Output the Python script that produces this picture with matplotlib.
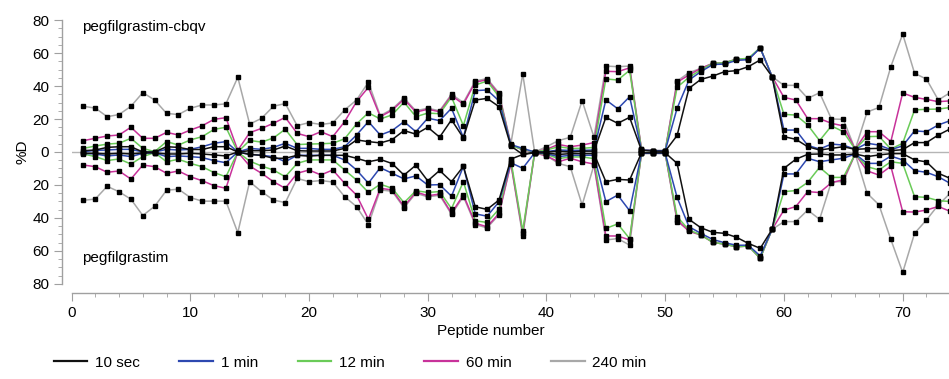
import numpy as np
import matplotlib
matplotlib.use("Agg")
import matplotlib.pyplot as plt
from matplotlib.ticker import MultipleLocator, FuncFormatter

plt.rcParams['font.family'] = ['Liberation Sans', 'DejaVu Sans']

peptides = list(range(1, 75))

# top half: pegfilgrastim-cbqv, bottom half: pegfilgrastim (%D, plotted mirrored)
k_top = [0.8, 1.2, 2.8, 3.2, 3.2, 0, 0, 3.2, 2.8, 1.5, 1.5, 3.2, 3.2, 0,
         0.8, 0.8, 1.2, 3.6, 0.8, 0.6, 0.6, 0.6, 2.2, 7.3, 6.3, 5.5,
         7.5, 13, 10.8, 15, 9, 19.5, 8.5, 31.5, 32.5, 27.5, 3.6, -1.5, 0,
         0, 0.5, 0, 0.5, 0.5, 21, 17.4, 21, 1, 0.5, 0.5,
         10, 38.6, 44, 46, 48.7, 49.3, 51.7, 55.8, 45.7,
         9.3, 7.7, 3.2, 1.2, 2.2, 3.2, 1.6, 2, 2.2, 0.8, 1.4, 5.7, 5.7, 10.3, 14]
k_bot = [0.8, 0.8, 1.2, 0.8, 1.2, 0.5, 0.5, 1.2, 1.2, 0.8, 1.2, 1.8, 2.4, 0,
         1.5, 2, 3.8, 3.8, 2, 2.5, 2, 2, 2, 3.8, 5.9, 4.5,
         7, 14, 8, 17.5, 11.2, 18, 8.7, 33.2, 34.8, 29.1, 4.3, 1.5, 0.5,
         0.5, 1.5, 1, 1, 1, 18, 16.6, 17, 0.5, 0.5, 0.5,
         6.9, 40.8, 45.9, 48.7, 49.3, 51.7, 55.4, 58.4, 46.9,
         9.9, 4.4, 1.4, 1.2, 1.8, 1.8, 1.2, 2.8, 1.8, 1, 1, 4.8, 6, 12.9, 16]
b_top = [0.2, 1, 1.2, 1.6, 1.6, 0, 0, 1.6, 1.2, 1.6, 3.2, 5.3, 6.3, 0,
         2.2, 1.6, 2.8, 5.3, 2.2, 2.2, 1.6, 1.6, 3.2, 10.3, 18.4, 10.3,
         13, 18.4, 12.3, 20.5, 19, 26.5, 8.8, 37.2, 37.6, 31, 4.5, 2.2, 0,
         0.2, 1.2, 1, 1, 1.2, 31.6, 26.2, 33.5, 1.2, 0.8, 0.8,
         26.5, 43.6, 48.7, 53, 53.3, 55.5, 56, 63, 45.7,
         13.3, 13.3, 4, 1.8, 4.8, 4.2, 1.6, 5.3, 4.2, 1.4, 3.7, 12.8, 12.3, 16.4, 19]
b_bot = [0.8, 1.2, 2.4, 1.8, 2.8, 0.8, 0.5, 2.8, 2.4, 2.8, 3.4, 5.2, 6.5, 0,
         1.4, 2, 2.8, 5.9, 2, 2, 2, 2, 4.8, 10.9, 18.9, 9.5,
         12.9, 16.3, 14.5, 20, 19.8, 26.8, 8.7, 37.5, 38.9, 30.2, 6.5, 9.9, 0.5,
         1, 2.8, 2, 2, 2, 30.1, 26.1, 35.6, 0.8, 0.8, 0.8,
         27.5, 45.3, 49.3, 53, 55, 56.5, 56.5, 63, 46.9,
         13.3, 13.3, 3.8, 5.9, 4.8, 3.8, 1.2, 6.9, 6.9, 2.5, 4.8, 11.3, 12.3, 15, 19]
g_top = [2.2, 3.6, 4.8, 5.3, 8.3, 2.2, 0.2, 6.3, 4.2, 7.3, 9.3, 13.7, 15, 0,
         7, 6, 8.5, 13.8, 4.5, 4.8, 5, 5.3, 8, 17, 23.8, 20,
         22.5, 30.2, 21.4, 23.6, 23.2, 33.3, 16, 40.6, 43, 33.5, 4, 1.5, 0,
         1.2, 3.2, 2.2, 2.2, 2.8, 44.3, 43.6, 49.5, 1.2, 0.8, 0.8,
         39.2, 45.3, 49.7, 53.7, 54.1, 56.2, 56.8, 63.2, 45.7,
         22.8, 22.4, 16.4, 6.9, 15.8, 12.3, 1.6, 9.3, 9.5, 1.8, 5.3, 25.5, 25.9, 26, 27]
g_bot = [1.2, 2.8, 5.2, 4.2, 7.3, 2.8, 0.4, 5.9, 4.4, 6.9, 8.9, 12.5, 15, 0,
         5.5, 8.5, 10.9, 15, 6.9, 4.8, 4.8, 4.8, 10.9, 17, 24.5, 19.5,
         22, 30.7, 23.5, 24.5, 24, 34.3, 18, 41.7, 42.7, 34.6, 5, 47.8, 0.5,
         1.5, 4, 3, 3, 4, 46.3, 43.6, 52.5, 0.8, 0.8, 0.8,
         39.2, 47.3, 50.3, 54.7, 55.9, 57.4, 57, 64.4, 46.9,
         24, 23.4, 18.4, 9.3, 15.4, 15.4, 1.2, 8.9, 10.9, 5.9, 6.9, 27.1, 27.5, 29.5, 30]
m_top = [6.9, 8.3, 9.7, 10.3, 15, 8.3, 8.3, 11.9, 10.3, 13.3, 15.9, 19.8, 20.8, 1,
         11.7, 14.3, 17.4, 21, 11.3, 9.3, 12.3, 9.3, 18.4, 30.5, 39.2, 21.4,
         25.3, 32, 24.2, 25.9, 24.4, 34.2, 29, 42.3, 43.8, 35, 4.5, 1.2, 0,
         1.6, 4.6, 3.2, 4.2, 5.7, 48.9, 48.7, 51, 1.6, 0.8, 0.8,
         42.3, 46.7, 50.7, 53.7, 54.1, 56.2, 56.2, 63.2, 45.7,
         33.1, 31.5, 20.2, 20.2, 17.4, 15.8, 1.6, 12.3, 12.3, 6.3, 35.8, 33.1, 31.9, 30.5, 31]
m_bot = [7.9, 8.9, 12.3, 11.5, 16.4, 7.9, 8.9, 12.9, 11.5, 15, 17.4, 20.4, 22, 0,
         8.5, 12.9, 18, 22, 12.9, 10.9, 13.9, 10.9, 19, 26.1, 40.8, 22,
         23, 33.1, 24.2, 26.5, 25.5, 37.1, 26, 43.2, 45.3, 37.2, 6.9, 49.3, 0.5,
         2.4, 5.9, 3.8, 5.9, 7.3, 50.9, 50.9, 53.3, 0.8, 0.8, 0.8,
         41.2, 48.1, 50.3, 54.7, 55.9, 57.4, 57, 64.4, 46.9,
         35.2, 33.1, 24, 24.6, 18.6, 16.8, 1.2, 11.4, 14, 8.6, 36.2, 36.4, 35.2, 33, 36]
gr_top = [27.7, 26.6, 21.4, 22.7, 27.7, 36, 31.5, 23.4, 22.7, 26.5, 28.5, 28.5, 29.2, 45.3,
          16.9, 20.4, 27.7, 29.4, 16, 17.8, 16.7, 17.6, 25.5, 31.5, 42.3, 22,
          26, 32.7, 25, 26.5, 25, 35, 30, 43, 44.5, 35.8, 5, 47.3, 0,
          3.2, 6.9, 8.9, 31.1, 9, 52.1, 51.7, 52.1, 1.6, 0.8, 0.8,
          43, 48.1, 50.7, 53.7, 54.1, 56.2, 56.2, 63.2, 45.7,
          40.4, 40.4, 32.5, 35.9, 20, 19.8, 1.6, 24.2, 27, 51.7, 71.5, 47.7, 44.2, 31.5, 36]
gr_bot = [29.3, 28.5, 20.8, 24.1, 28.6, 38.5, 32.9, 23.2, 22.5, 27.6, 29.8, 29.8, 29.8, 48.9,
          18, 24, 29.1, 30.7, 16, 18, 17.3, 18.2, 27.1, 33.1, 44, 23,
          23.8, 33.8, 25, 27.2, 26.2, 37.8, 27, 44, 46, 38, 7, 51, 0.5,
          2.2, 6.9, 8.9, 32.1, 7.9, 53.3, 52.5, 56.4, 0.8, 0.8, 0.8,
          42.2, 47.3, 50.3, 54.7, 55.9, 57.4, 57, 64.4, 46.9,
          42.2, 42.2, 35.2, 40.8, 18, 18, 1.2, 25, 32, 53, 73, 49.3, 41.2, 32.1, 25]

labels = ["10 sec", "1 min", "12 min", "60 min", "240 min"]
colors = ["#111111", "#2d48b0", "#6acb58", "#c8329a", "#a8a8a8"]
tops = [k_top, b_top, g_top, m_top, gr_top]
bots = [k_bot, b_bot, g_bot, m_bot, gr_bot]

fig = plt.figure(figsize=(9.49, 3.79), dpi=100)
ax = fig.add_axes([0.0754, 0.2507, 0.9246, 0.6965])

x = np.array(peptides)
ax.axhline(0, color="#b5b5b5", lw=1, zorder=1)
# draw slowest exchange first so the gray sits underneath
for i in range(4, -1, -1):
    ax.plot(x, np.array(tops[i]), color=colors[i], lw=1.1, zorder=2 + (4 - i))
    ax.plot(x, -np.array(bots[i]), color=colors[i], lw=1.1, zorder=2 + (4 - i))
    ax.plot(x, np.array(tops[i]), 's', ms=2.5, color="black", zorder=10)
    ax.plot(x, -np.array(bots[i]), 's', ms=2.5, color="black", zorder=10)

ax.set_xlim(0, 73.9)
ax.set_ylim(-80, 80)

for s in ["top", "right"]:
    ax.spines[s].set_visible(False)
ax.spines["left"].set_position(("outward", 7))
ax.spines["bottom"].set_position(("outward", 6.5))
for s in ["left", "bottom"]:
    ax.spines[s].set_color("#a0a0a0")
    ax.spines[s].set_linewidth(1)

ax.yaxis.set_major_locator(MultipleLocator(20))
ax.yaxis.set_minor_locator(MultipleLocator(5))
ax.xaxis.set_major_locator(MultipleLocator(10))
ax.xaxis.set_minor_locator(MultipleLocator(2))
ax.yaxis.set_major_formatter(FuncFormatter(lambda v, p: f"{abs(int(round(v)))}"))
ax.tick_params(which="major", length=6, color="#a0a0a0", labelsize=11, pad=3)
ax.tick_params(which="minor", length=3, color="#a0a0a0")

ax.set_xlabel("Peptide number", fontsize=11)
ax.xaxis.set_label_coords(0.478, -0.15)
ax.set_ylabel("%D", fontsize=11, labelpad=2)

ax.text(0.9, 76, "pegfilgrastim-cbqv", fontsize=11, va="center", ha="left")
ax.text(0.9, -64, "pegfilgrastim", fontsize=11, va="center", ha="left")

handles = [plt.Line2D([], [], color=c, lw=1.6) for c in colors]
fig.legend(handles, labels, loc="lower left", bbox_to_anchor=(0.042, -0.012),
           ncol=5, frameon=False, fontsize=11, handlelength=2.2,
           columnspacing=2.6, handletextpad=0.5)

fig.savefig("out.png", dpi=100)
